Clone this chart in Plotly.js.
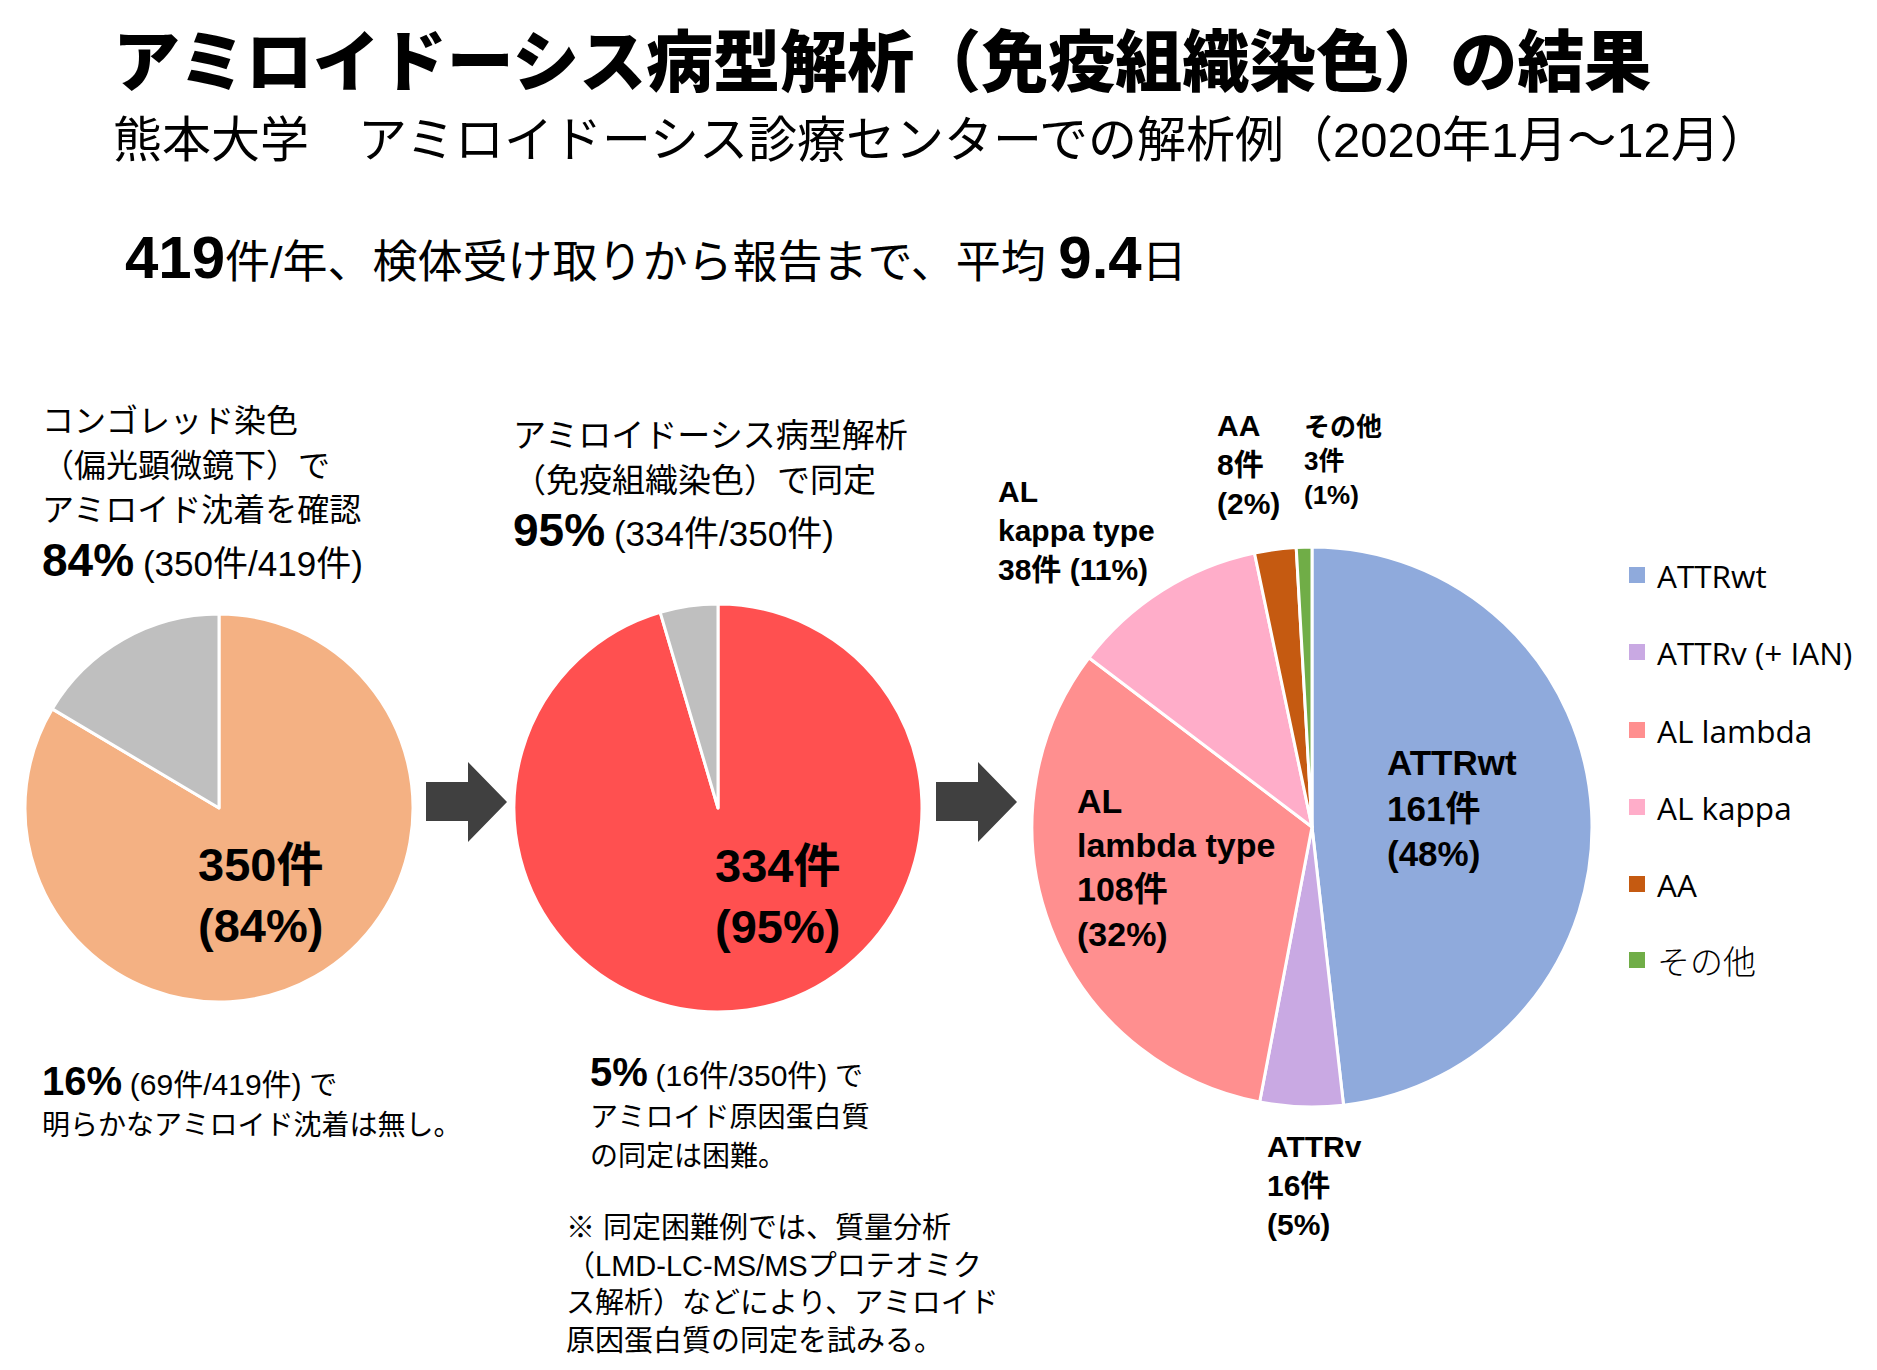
<!DOCTYPE html>
<html><head><meta charset="utf-8">
<script src="https://cdn.plot.ly/plotly-3.0.1.min.js"></script>
<style>html,body{margin:0;padding:0;background:#fff;}</style>
</head><body>
<div id="chart" style="width:1877px;height:1370px;"></div>
<script>
// ---------- DATA ----------
const stage1Labels = ['アミロイド沈着あり', 'アミロイド沈着なし'];
const stage1Counts = [350, 69];
const stage2Labels = ['病型同定', '同定困難'];
const stage2Counts = [334, 16];
const typeLabels = ['ATTRwt', 'ATTRv (+ IAN)', 'AL lambda', 'AL kappa', 'AA', 'その他'];
const typeSliceNames = ['ATTRwt', 'ATTRv', 'AL<br>lambda type', 'AL<br>kappa type', 'AA', 'その他'];
const typeCounts = [161, 16, 108, 38, 8, 3];
const totalSamples = 419;
const avgDays = 9.4;

// ---------- STYLE ----------
const W = 1877, H = 1370;
const stage1Colors = ['#F4B183', '#BFBFBF'];
const stage2Colors = ['#FF5050', '#BFBFBF'];
const typeColors = ['#8FAADC', '#C9A9E3', '#FF8F8F', '#FFADC9', '#C55A11', '#70AD47'];
const JP = 'Noto Sans CJK JP';
const LAT = 'Liberation Sans, Noto Sans CJK JP';

const px = x => x / W;
const py = y => 1 - y / H;
const pct = (v, arr) => Math.round(v / arr.reduce((a, b) => a + b, 0) * 100);
function domainFor(cx, cy, r) {
  return { x: [px(cx - r), px(cx + r)], y: [py(cy + r), py(cy - r)] };
}
function pieTrace(labels, values, colors, dom) {
  return {
    type: 'pie', labels: labels, values: values, sort: false, direction: 'clockwise', rotation: 0,
    marker: { colors: colors, line: { color: '#FFFFFF', width: 3 } },
    textinfo: 'none', hoverinfo: 'label+value', showlegend: false, domain: dom
  };
}

const data = [
  pieTrace(stage1Labels, stage1Counts, stage1Colors, domainFor(219, 808, 194)),
  pieTrace(stage2Labels, stage2Counts, stage2Colors, domainFor(718, 808, 204)),
  pieTrace(typeLabels, typeCounts, typeColors, domainFor(1312, 827, 280))
];

function ann(x, y, text, size, opts) {
  opts = opts || {};
  return {
    x: px(x), y: py(y), xref: 'paper', yref: 'paper', showarrow: false,
    xanchor: opts.xanchor || 'left', yanchor: 'middle', align: opts.align || 'left',
    text: text,
    font: { family: opts.family || JP, size: size, color: '#000000', weight: opts.weight || 'normal' }
  };
}
const big = (t, s) => `<span style="font-size:${s}px;font-weight:bold">${t}</span>`;
const sz = (t, s) => `<span style="font-size:${s}px">${t}</span>`;

const annotations = [];
// Titles
annotations.push(ann(111, 63, 'アミロイドーシス病型解析（免疫組織染色）の結果', 67, { weight: 900, family: LAT }));
annotations.push(ann(111, 140, '熊本大学　アミロイドーシス診療センターでの解析例（2020年1月～12月）', 49, { family: LAT }));
annotations.push(ann(123, 257,
  `${big(totalSamples, 60)}件/年、検体受け取りから報告まで、平均 ${big(avgDays, 60)}日`, 45, { family: LAT }));

// Stage 1 text
annotations.push(ann(40, 421, 'コンゴレッド染色', 32, { family: LAT }));
annotations.push(ann(40, 466, '（偏光顕微鏡下）で', 32, { family: LAT }));
annotations.push(ann(40, 510, 'アミロイド沈着を確認', 32, { family: LAT }));
annotations.push(ann(40, 560,
  `${big(pct(stage1Counts[0], stage1Counts) + '%', 46)} ${sz('(' + stage1Counts[0] + '件/' + totalSamples + '件)', 35)}`, 32, { family: LAT }));
annotations.push(ann(40, 1081,
  `${big(pct(stage1Counts[1], stage1Counts) + '%', 40)} ${sz('(' + stage1Counts[1] + '件/' + totalSamples + '件)', 30)} で`, 28, { family: LAT }));
annotations.push(ann(40, 1125, '明らかなアミロイド沈着は無し。', 28, { family: LAT }));
annotations.push(ann(260, 895,
  `${stage1Counts[0]}件<br>(${pct(stage1Counts[0], stage1Counts)}%)`, 47, { family: LAT, weight: 'bold', xanchor: 'center', align: 'left' }));

// Stage 2 text
const stage2Total = stage2Counts[0] + stage2Counts[1];
annotations.push(ann(511, 436, 'アミロイドーシス病型解析', 33, { family: LAT }));
annotations.push(ann(511, 480, '（免疫組織染色）で同定', 33, { family: LAT }));
annotations.push(ann(511, 530,
  `${big(pct(stage2Counts[0], stage2Counts) + '%', 46)} ${sz('(' + stage2Counts[0] + '件/' + stage2Total + '件)', 35)}`, 32, { family: LAT }));
annotations.push(ann(777, 896,
  `${stage2Counts[0]}件<br>(${pct(stage2Counts[0], stage2Counts)}%)`, 47, { family: LAT, weight: 'bold', xanchor: 'center', align: 'left' }));
annotations.push(ann(588, 1072,
  `${big(pct(stage2Counts[1], stage2Counts) + '%', 40)} ${sz('(' + stage2Counts[1] + '件/' + stage2Total + '件)', 30)} で`, 28, { family: LAT }));
annotations.push(ann(588, 1117, 'アミロイド原因蛋白質', 28, { family: LAT }));
annotations.push(ann(588, 1156, 'の同定は困難。', 28, { family: LAT }));
annotations.push(ann(564, 1284,
  '※ 同定困難例では、質量分析<br>（LMD-LC-MS/MSプロテオミク<br>ス解析）などにより、アミロイド<br>原因蛋白質の同定を試みる。', 29, { family: LAT }));

// Stage 3 slice labels
const typeLabelPos = [[1385, 808, 35], [1265, 1185, 30], [1075, 867, 34], [996, 530, 30], [1215, 464, 30], [1302, 461, 26]];
typeCounts.forEach((c, i) => {
  const sep = i === 3 ? ' ' : '<br>';
  const t = `${typeSliceNames[i]}<br>${c}件${sep}(${pct(c, typeCounts)}%)`;
  const p = typeLabelPos[i];
  annotations.push(ann(p[0], p[1], t, p[2], { family: LAT, weight: 'bold' }));
});

// Manual legend
const shapes = [];
const legendY = [575, 652, 730, 807, 884, 960];
typeLabels.forEach((l, i) => {
  shapes.push({ type: 'rect', xref: 'paper', yref: 'paper', x0: px(1629), x1: px(1645), y0: py(legendY[i] + 8), y1: py(legendY[i] - 8),
    fillcolor: typeColors[i], line: { width: 0 } });
  const isJ = /[^\x00-\x7F]/.test(l);
  annotations.push(ann(1655, legendY[i], l, isJ ? 33 : 31.5,
    { family: isJ ? JP : 'Open Sans, ' + JP, weight: isJ ? 300 : 'normal' }));
});

// Arrows
function arrowPath(x0, tip) {
  const pts = [[x0, 782], [tip - 39, 782], [tip - 39, 762], [tip, 802], [tip - 39, 842], [tip - 39, 821], [x0, 821]];
  return 'M ' + pts.map(p => px(p[0]) + ',' + py(p[1])).join(' L ') + ' Z';
}
shapes.push({ type: 'path', xref: 'paper', yref: 'paper', path: arrowPath(426, 507), fillcolor: '#404040', line: { width: 0 } });
shapes.push({ type: 'path', xref: 'paper', yref: 'paper', path: arrowPath(936, 1017), fillcolor: '#404040', line: { width: 0 } });

const layout = {
  width: W, height: H, margin: { l: 0, r: 0, t: 0, b: 0, pad: 0 },
  paper_bgcolor: '#FFFFFF', plot_bgcolor: '#FFFFFF', showlegend: false,
  annotations: annotations, shapes: shapes
};
Plotly.newPlot('chart', data, layout, { staticPlot: true, displayModeBar: false });
</script>
</body></html>
